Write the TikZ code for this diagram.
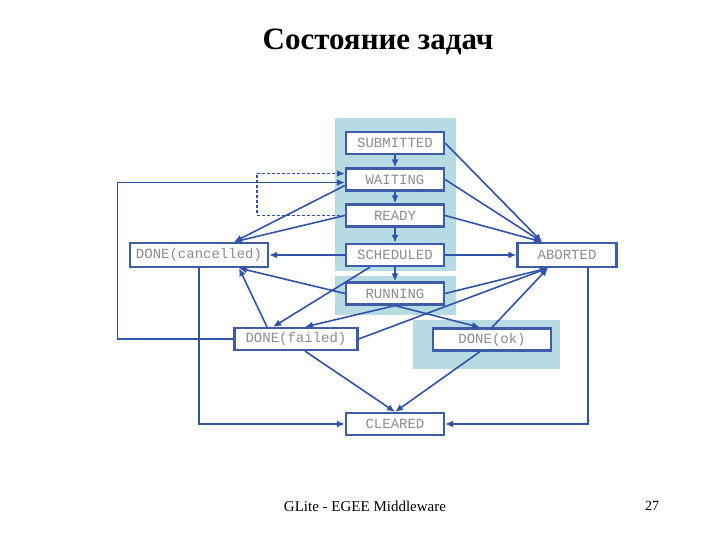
\documentclass[tikz,border=0pt]{standalone}
\usepackage{fontspec}
\setmainfont{Liberation Serif}
\setmonofont{Liberation Mono}
\usetikzlibrary{arrows.meta}
\definecolor{stateline}{RGB}{62,92,168}
\definecolor{arrowline}{RGB}{50,82,170}
\definecolor{groupbg}{RGB}{182,219,226}
\definecolor{statetext}{RGB}{140,140,140}

\begin{document}
\begin{tikzpicture}[x=1pt, y=-1pt,
    state/.style = {draw=stateline, line width=2.2pt, fill=white, minimum height=22pt,
                    inner sep=0pt, text=statetext, font=\ttfamily\fontsize{14}{14}\selectfont},
    trans/.style = {draw=arrowline, line width=1.6pt, -{Latex[length=8pt,width=7pt]}}
    ]
\useasboundingbox (0,0) rectangle (720,540);
\node[font=\bfseries\fontsize{31}{36}\selectfont] (title) at (378,42) {Состояние задач};

% shaded groups
\fill[groupbg] (335,118) rectangle (456,271);
\fill[groupbg] (335,276) rectangle (456,315);
\fill[groupbg] (413,320) rectangle (560,369);

\node[state, minimum width=98pt] (sub) at (395,143) {SUBMITTED};
\node[state, minimum width=98pt] (wai) at (395,179.5) {WAITING};
\node[state, minimum width=98pt] (rdy) at (395,215.5) {READY};
\node[state, minimum width=98pt] (sch) at (395,255) {SCHEDULED};
\node[state, minimum width=98pt] (run) at (395,293.5) {RUNNING};
\node[state, minimum width=138pt, minimum height=24pt] (can) at (199,255) {DONE(cancelled)};
\node[state, minimum width=99pt, minimum height=24pt] (ab) at (567,255) {ABORTED};
\node[state, minimum width=123pt] (fail) at (296,339) {DONE(failed)};
\node[state, minimum width=118pt] (ok) at (492,339.5) {DONE(ok)};
\node[state, minimum width=98pt] (clr) at (395,424) {CLEARED};

\node[font=\fontsize{15}{17}\selectfont] (foot) at (365,506) {GLite - EGEE Middleware};
\node[font=\fontsize{14}{16}\selectfont] (page) at (652,506) {27};

% main chain
\draw[trans] (sub) -- (wai);
\draw[trans] (wai) -- (rdy);
\draw[trans] (rdy) -- (sch);
\draw[trans] (sch) -- (run);

% to ABORTED
\draw[trans] (sub.east) -- ([xshift=-25pt]ab.north);
\draw[trans] (wai.east) -- ([xshift=-25pt]ab.north);
\draw[trans] (rdy.east) -- ([xshift=-25pt]ab.north);
\draw[trans] (sch) -- (ab);
\draw[trans] (run.east) -- ([xshift=-19pt]ab.south);
\draw[trans] (fail.east) -- ([xshift=-19pt]ab.south);
\draw[trans] (ok.north) -- ([xshift=-19pt]ab.south);

% to CLEARED
\draw[trans] ([xshift=21pt]ab.south) |- (clr.east);
\draw[trans] (can.south) |- (clr.west);
\draw[trans] ([xshift=9pt]fail.south) -- (clr.north);
\draw[trans] ([xshift=-12pt]ok.south) -- (clr.north);

% back to WAITING
\draw[trans] (fail.west) -- ++(-116,0) |- ([yshift=-3pt]wai.west);
\draw[trans, dash pattern=on 3pt off 2pt] (rdy.west) -- ++(-88,0) |- ([yshift=6pt]wai.west);

% to DONE(cancelled)
\draw[trans] ([yshift=-6pt]wai.west) -- ([xshift=35pt]can.north);
\draw[trans] (rdy.west) -- ([xshift=35pt]can.north);
\draw[trans] (sch) -- (can);
\draw[trans] (run.west) -- ([xshift=40pt]can.south);
\draw[trans] ([xshift=-29pt]fail.north) -- ([xshift=40pt]can.south);

% to DONE(failed) / DONE(ok)
\draw[trans] ([xshift=-25pt]sch.south) -- ([xshift=-23pt]fail.north);
\draw[trans] (run.south) -- ([xshift=9pt]fail.north);
\draw[trans] (run.south) -- ([xshift=-12pt]ok.north);
\end{tikzpicture}
\end{document}
